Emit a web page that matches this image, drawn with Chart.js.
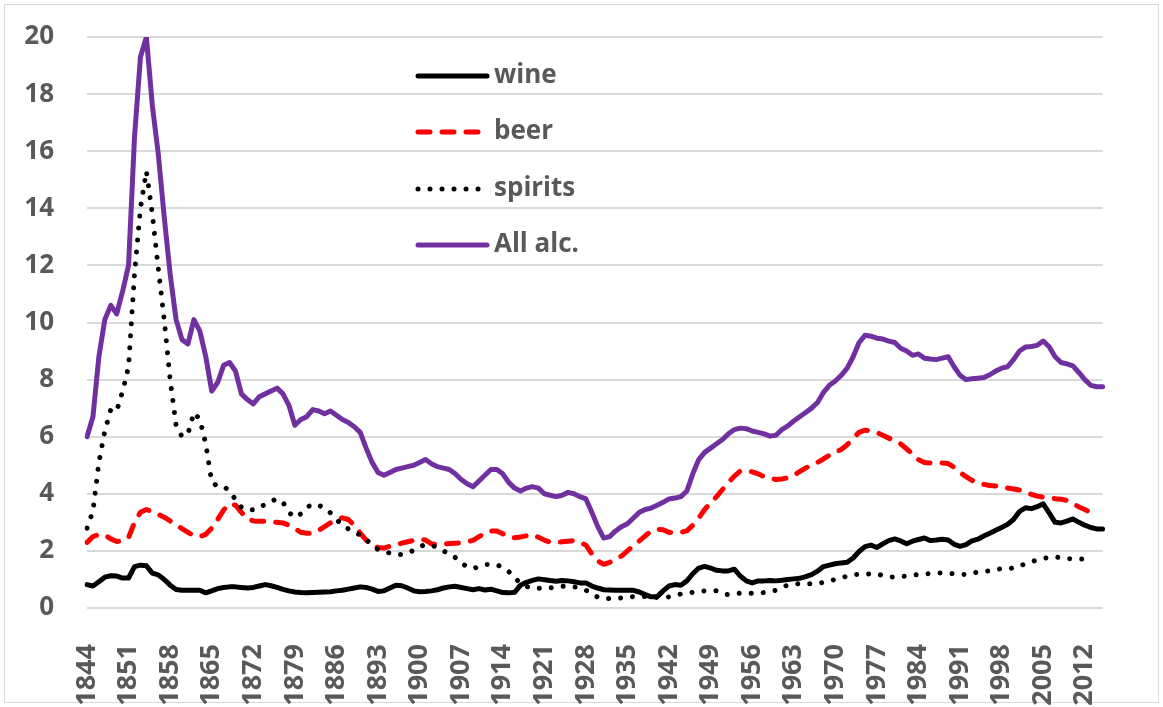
<!DOCTYPE html>
<html lang="en">
<head>
    <meta charset="UTF-8">
    <title>Alcohol consumption per capita, 1844-2015</title>
    <script src="https://cdn.jsdelivr.net/npm/chart.js"></script>
    <style>
        body { margin: 0; background: #fff; }
        #frame { position: absolute; left: 4px; top: 4px; width: 1153px; height: 697px; border: 1px solid #d9d9d9; }
        #alcChart { position: absolute; left: 0; top: 0; }
    </style>
</head>
<body>
    <div id="frame"></div>
    <canvas id="alcChart" width="1163" height="707"></canvas>

    <script>
        // categories (one per year)
        const years = [
            1844, 1845, 1846, 1847, 1848, 1849, 1850, 1851, 1852, 1853,
            1854, 1855, 1856, 1857, 1858, 1859, 1860, 1861, 1862, 1863,
            1864, 1865, 1866, 1867, 1868, 1869, 1870, 1871, 1872, 1873,
            1874, 1875, 1876, 1877, 1878, 1879, 1880, 1881, 1882, 1883,
            1884, 1885, 1886, 1887, 1888, 1889, 1890, 1891, 1892, 1893,
            1894, 1895, 1896, 1897, 1898, 1899, 1900, 1901, 1902, 1903,
            1904, 1905, 1906, 1907, 1908, 1909, 1910, 1911, 1912, 1913,
            1914, 1915, 1916, 1917, 1918, 1919, 1920, 1921, 1922, 1923,
            1924, 1925, 1926, 1927, 1928, 1929, 1930, 1931, 1932, 1933,
            1934, 1935, 1936, 1937, 1938, 1939, 1940, 1941, 1942, 1943,
            1944, 1945, 1946, 1947, 1948, 1949, 1950, 1951, 1952, 1953,
            1954, 1955, 1956, 1957, 1958, 1959, 1960, 1961, 1962, 1963,
            1964, 1965, 1966, 1967, 1968, 1969, 1970, 1971, 1972, 1973,
            1974, 1975, 1976, 1977, 1978, 1979, 1980, 1981, 1982, 1983,
            1984, 1985, 1986, 1987, 1988, 1989, 1990, 1991, 1992, 1993,
            1994, 1995, 1996, 1997, 1998, 1999, 2000, 2001, 2002, 2003,
            2004, 2005, 2006, 2007, 2008, 2009, 2010, 2011, 2012, 2013,
            2014, 2015
        ];

        // years that get a label on the x axis
        const tickYears = [1844, 1851, 1858, 1865, 1872, 1879, 1886, 1893, 1900, 1907, 1914, 1921, 1928,
                           1935, 1942, 1949, 1956, 1963, 1970, 1977, 1984, 1991, 1998, 2005, 2012];

        const wine = [
            0.82, 0.77, 0.92, 1.08, 1.13, 1.12, 1.05, 1.05, 1.45, 1.5,
            1.48, 1.22, 1.16, 1.0, 0.8, 0.65, 0.62, 0.62, 0.62, 0.62,
            0.53, 0.6, 0.68, 0.72, 0.74, 0.74, 0.72, 0.7, 0.72, 0.77,
            0.82, 0.78, 0.72, 0.65, 0.6, 0.56, 0.54, 0.53, 0.54, 0.55,
            0.56, 0.57, 0.6, 0.62, 0.66, 0.7, 0.74, 0.72, 0.66, 0.58,
            0.6, 0.7, 0.8, 0.78, 0.7, 0.6, 0.57, 0.58, 0.6, 0.64,
            0.7, 0.74, 0.76, 0.72, 0.68, 0.64, 0.68, 0.63, 0.66, 0.6,
            0.54, 0.53, 0.55, 0.8, 0.9, 0.97, 1.02, 0.99, 0.96, 0.94,
            0.96, 0.95, 0.92, 0.88, 0.88, 0.77, 0.7, 0.64, 0.63, 0.62,
            0.62, 0.62, 0.62, 0.56, 0.47, 0.39, 0.39, 0.6, 0.77, 0.82,
            0.8, 0.95, 1.2, 1.4, 1.46, 1.4, 1.32, 1.3, 1.3, 1.36,
            1.12, 0.95, 0.88, 0.95, 0.95, 0.96, 0.95, 0.97, 1.0, 1.02,
            1.04, 1.1, 1.17, 1.29, 1.45, 1.5, 1.55, 1.58, 1.6, 1.75,
            1.98, 2.15, 2.2, 2.12, 2.25, 2.36, 2.42, 2.35, 2.25, 2.34,
            2.4, 2.45, 2.36, 2.38, 2.41, 2.38, 2.23, 2.16, 2.22, 2.35,
            2.41, 2.52, 2.62, 2.72, 2.82, 2.93, 3.1, 3.38, 3.51, 3.48,
            3.55, 3.65, 3.33, 3.0, 2.98, 3.04, 3.12, 3.0, 2.9, 2.82,
            2.77, 2.77
        ];

        const beer = [
            2.3, 2.5, 2.57, 2.56, 2.42, 2.33, 2.35, 2.47, 3.0, 3.35,
            3.45, 3.38, 3.28, 3.18, 3.05, 2.92, 2.78, 2.65, 2.53, 2.5,
            2.58, 2.8, 3.1, 3.43, 3.65, 3.6, 3.35, 3.12, 3.05, 3.04,
            3.04, 3.02, 3.0, 2.98, 2.9, 2.78, 2.65, 2.62, 2.62, 2.72,
            2.85, 2.98, 3.1, 3.16, 3.1, 2.9, 2.62, 2.38, 2.18, 2.12,
            2.1, 2.16, 2.2, 2.27, 2.32, 2.37, 2.42, 2.38, 2.25, 2.22,
            2.24, 2.26, 2.27, 2.28, 2.32, 2.37, 2.5, 2.62, 2.7, 2.7,
            2.6, 2.48, 2.46, 2.49, 2.53, 2.57, 2.48, 2.38, 2.3, 2.3,
            2.32, 2.34, 2.36, 2.3, 2.2, 1.9, 1.65, 1.53, 1.6, 1.7,
            1.82, 2.0, 2.18, 2.35, 2.53, 2.7, 2.76, 2.74, 2.65, 2.64,
            2.65, 2.7, 2.9, 3.15, 3.45, 3.68, 3.9, 4.15, 4.4, 4.62,
            4.8, 4.8, 4.77, 4.7, 4.6, 4.55, 4.5, 4.52, 4.56, 4.65,
            4.78, 4.9, 5.0, 5.1, 5.22, 5.35, 5.45, 5.55, 5.72, 5.95,
            6.15, 6.23, 6.2, 6.15, 6.05, 5.95, 5.85, 5.75, 5.57, 5.4,
            5.2, 5.1, 5.08, 5.07, 5.08, 5.06, 4.93, 4.75, 4.6, 4.47,
            4.38, 4.33, 4.29, 4.27, 4.24, 4.2, 4.17, 4.13, 4.08, 3.98,
            3.92, 3.88, 3.86, 3.83, 3.81, 3.77, 3.66, 3.54, 3.45, 3.34,
            null, null
        ];

        const spirits = [
            2.8, 3.4, 5.1, 6.2, 6.95, 6.9, 7.6, 8.45, 11.7, 14.0,
            15.3, 13.8, 11.9, 10.1, 8.0, 6.4, 6.0, 6.1, 6.85, 6.6,
            5.75, 4.4, 4.27, 4.26, 4.1, 3.8, 3.52, 3.43, 3.44, 3.5,
            3.64, 3.74, 3.82, 3.7, 3.35, 3.17, 3.3, 3.52, 3.64, 3.6,
            3.5, 3.33, 3.1, 2.9, 2.77, 2.65, 2.56, 2.4, 2.2, 2.05,
            2.0, 1.92, 1.88, 1.87, 1.93, 2.02, 2.15, 2.22, 2.2, 2.12,
            2.0, 1.9, 1.77, 1.58, 1.45, 1.38, 1.45, 1.52, 1.53, 1.52,
            1.42, 1.28, 1.07, 0.85, 0.75, 0.7, 0.69, 0.68, 0.7, 0.75,
            0.76, 0.76, 0.74, 0.7, 0.62, 0.52, 0.38, 0.33, 0.33, 0.33,
            0.35, 0.38, 0.4, 0.4, 0.4, 0.38, 0.37, 0.38, 0.39, 0.44,
            0.49, 0.52, 0.55, 0.58, 0.6, 0.6, 0.6, 0.5, 0.47, 0.5,
            0.52, 0.52, 0.52, 0.53, 0.54, 0.57, 0.62, 0.73, 0.8, 0.84,
            0.85, 0.85, 0.85, 0.85, 0.9, 0.95, 1.0, 1.05, 1.12, 1.17,
            1.18, 1.18, 1.2, 1.2, 1.13, 1.1, 1.08, 1.1, 1.12, 1.15,
            1.17, 1.19, 1.21, 1.22, 1.23, 1.22, 1.2, 1.18, 1.17, 1.22,
            1.26, 1.28, 1.3, 1.35, 1.37, 1.37, 1.4, 1.47, 1.55, 1.62,
            1.68, 1.74, 1.77, 1.79, 1.76, 1.73, 1.72, 1.72, 1.71, 1.7,
            null, null
        ];

        const allAlc = [
            6.0, 6.7, 8.8, 10.1, 10.6, 10.3, 11.1, 12.0, 16.5, 19.3,
            20.0, 17.6, 15.9, 13.7, 11.7, 10.1, 9.4, 9.25, 10.1, 9.7,
            8.8, 7.6, 7.9, 8.5, 8.6, 8.3, 7.5, 7.3, 7.15, 7.4,
            7.5, 7.6, 7.7, 7.5, 7.1, 6.4, 6.6, 6.7, 6.95, 6.9,
            6.8, 6.9, 6.75, 6.6, 6.5, 6.35, 6.15, 5.6, 5.1, 4.75,
            4.65, 4.75, 4.85, 4.9, 4.95, 5.0, 5.1, 5.2, 5.05, 4.95,
            4.9, 4.85, 4.7, 4.5, 4.35, 4.25, 4.45, 4.65, 4.85, 4.85,
            4.7, 4.4, 4.2, 4.1, 4.2, 4.25, 4.2, 4.0, 3.95, 3.9,
            3.95, 4.05, 4.0, 3.9, 3.82, 3.35, 2.85, 2.45, 2.5, 2.7,
            2.85, 2.95, 3.15, 3.35, 3.45, 3.5, 3.6, 3.7, 3.82, 3.85,
            3.9, 4.1, 4.7, 5.2, 5.45, 5.6, 5.75, 5.9, 6.1, 6.25,
            6.3, 6.28, 6.2, 6.15, 6.1, 6.02, 6.05, 6.25, 6.38, 6.55,
            6.7, 6.85, 7.0, 7.2, 7.55, 7.8, 7.95, 8.15, 8.4, 8.8,
            9.3, 9.55, 9.52, 9.45, 9.42, 9.35, 9.3, 9.1, 9.0, 8.85,
            8.9, 8.75, 8.72, 8.7, 8.75, 8.8, 8.45, 8.15, 8.0, 8.03,
            8.05, 8.07, 8.17, 8.3, 8.4, 8.45, 8.7, 9.0, 9.14, 9.16,
            9.2, 9.35, 9.15, 8.8, 8.6, 8.55, 8.48, 8.25, 8.0, 7.8,
            7.75, 7.75
        ];

        const textGrey = '#595959';
        const gridGrey = '#d9d9d9';
        const labelFont = "'Open Sans', Lato, sans-serif";

        // legend drawn inside the plot, one row per series
        const insideLegend = {
            id: 'insideLegend',
            afterDraw(chart) {
                const ctx = chart.ctx;
                const rowY = [76, 132, 189, 245];
                const lineStart = 418, lineEnd = 487, textX = 494;
                ctx.save();
                chart.data.datasets.forEach((ds, i) => {
                    const y = rowY[i];
                    ctx.beginPath();
                    ctx.strokeStyle = ds.borderColor;
                    ctx.lineWidth = ds.borderWidth;
                    ctx.lineCap = 'round';
                    ctx.setLineDash(ds.borderDash || []);
                    ctx.moveTo(lineStart, y);
                    ctx.lineTo(lineEnd, y);
                    ctx.stroke();
                    ctx.setLineDash([]);
                    ctx.fillStyle = textGrey;
                    ctx.font = 'bold 26px ' + labelFont;
                    ctx.textBaseline = 'middle';
                    ctx.textAlign = 'left';
                    ctx.fillText(ds.label, textX, y);
                });
                ctx.restore();
            }
        };

        function lineSet(label, data, color, width, dash, order) {
            return {
                label: label,
                data: data,
                borderColor: color,
                backgroundColor: color,
                borderWidth: width,
                borderDash: dash,
                borderCapStyle: 'round',
                borderJoinStyle: 'round',
                pointRadius: 0,
                tension: 0,
                fill: false,
                order: order
            };
        }

        new Chart(document.getElementById('alcChart'), {
            type: 'line',
            data: {
                labels: years,
                datasets: [
                    lineSet('wine', wine, '#000000', 5, [], 3),
                    lineSet('beer', beer, '#ff0000', 5, [12, 12], 2),
                    lineSet('spirits', spirits, '#000000', 5, [0.01, 12], 1),
                    lineSet('All alc.', allAlc, '#7030a0', 5, [], 0)
                ]
            },
            options: {
                responsive: false,
                animation: false,
                layout: { padding: { top: 37, right: 26, left: 0, bottom: 0 } },
                plugins: {
                    legend: { display: false },
                    tooltip: { enabled: false }
                },
                scales: {
                    x: {
                        offset: false,
                        grid: { display: false },
                        border: { display: false },
                        afterFit: (scale) => { scale.height = 99; },
                        ticks: {
                            autoSkip: false,
                            minRotation: 90,
                            maxRotation: 90,
                            padding: 28,
                            color: textGrey,
                            font: { family: labelFont, size: 27, weight: 'bold' },
                            callback: function (value) {
                                const yr = this.getLabelForValue(value);
                                return tickYears.includes(yr) ? String(yr) : '';
                            }
                        }
                    },
                    y: {
                        min: 0,
                        max: 20,
                        grid: { color: gridGrey, lineWidth: 2, drawTicks: false },
                        border: { display: false },
                        afterFit: (scale) => {
                            // fixed axis width; the big label gap should not push the plot down
                            scale.width = 87;
                            scale.paddingTop = 0;
                            scale.paddingBottom = 0;
                        },
                        ticks: {
                            stepSize: 2,
                            padding: 33,
                            color: textGrey,
                            font: { family: labelFont, size: 26, weight: 'bold' }
                        }
                    }
                }
            },
            plugins: [insideLegend]
        });
    </script>
</body>
</html>
